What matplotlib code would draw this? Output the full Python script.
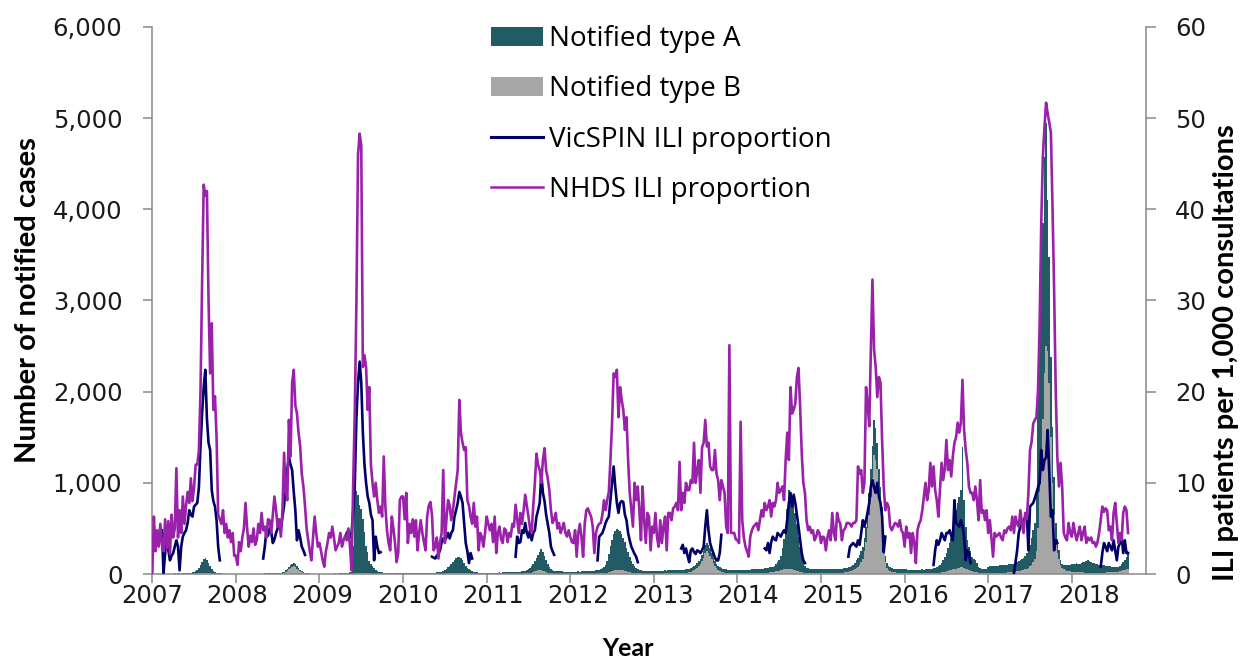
import numpy as np
import matplotlib
matplotlib.use("Agg")
import matplotlib.pyplot as plt
from matplotlib.patches import Patch
from matplotlib.lines import Line2D
from matplotlib.ticker import FuncFormatter

###################################################
# Data (weekly, one row per year, 2007 .. 2018)
###################################################

years = list(range(2007, 2019))

# NHDS ILI proportion (per 1,000 consultations)
nhds = [
    [0, 6.3, 2.5, 4.8, 3.0, 5.5, 3.2, 2.5, 6.0, 2.8, 5.8, 2.2, 6.5, 4.0, 5.0, 11.6, 4.0, 7.0, 4.5, 8.5, 5.5, 7.5, 9.0, 7.8, 10.5, 8.0, 9.5, 12.0, 12.0, 13.5, 20.0, 32.0, 42.7, 41.5, 42.0, 30.0, 22.0, 27.5, 18.0, 19.5, 15.0, 6.5, 6.0, 5.5, 7.0, 4.5, 5.5, 4.0, 4.8, 3.5, 4.5, 2.0],
    [2.0, 1.0, 3.5, 2.5, 4.0, 5.0, 7.8, 5.0, 3.0, 4.2, 3.5, 5.0, 3.2, 3.7, 5.5, 4.5, 6.7, 4.8, 5.2, 4.0, 6.0, 5.9, 4.5, 6.5, 8.5, 7.0, 5.2, 6.0, 4.1, 7.0, 13.3, 9.0, 8.1, 16.9, 12.9, 21.0, 22.4, 18.5, 17.6, 15.5, 14.0, 11.0, 9.6, 7.5, 5.0, 3.7, 2.5, 1.5, 4.0, 6.3, 4.5, 3.0],
    [3.4, 2.5, 1.5, 0.8, 2.5, 3.4, 4.5, 4.0, 5.2, 4.0, 2.6, 3.0, 3.4, 4.5, 3.0, 3.7, 4.2, 3.7, 5.0, 3.0, 0.4, 10.0, 18.0, 30.0, 46.0, 48.3, 47.0, 22.7, 24.0, 22.7, 18.0, 20.5, 12.0, 10.0, 8.5, 10.0, 8.1, 6.7, 7.4, 6.3, 12.9, 7.4, 4.8, 3.4, 2.6, 6.3, 5.0, 3.4, 1.3, 2.3, 8.1, 8.5],
    [8.5, 6.0, 8.9, 3.4, 5.5, 4.5, 6.0, 4.1, 5.9, 2.6, 4.5, 5.9, 4.5, 3.5, 2.6, 6.3, 7.5, 7.9, 6.5, 2.6, 3.0, 4.0, 1.7, 3.5, 4.5, 11.4, 3.4, 6.0, 8.1, 7.5, 5.9, 7.0, 8.5, 10.0, 11.4, 19.1, 15.5, 14.4, 13.6, 13.9, 8.1, 7.5, 6.3, 5.5, 7.8, 5.2, 6.3, 2.6, 4.5, 4.1, 3.0, 4.5],
    [6.3, 5.5, 4.8, 5.5, 3.5, 6.3, 2.3, 4.5, 5.2, 3.8, 3.4, 5.0, 4.8, 3.5, 4.5, 4.1, 5.5, 5.2, 7.6, 6.0, 4.5, 6.7, 5.5, 7.0, 8.7, 7.5, 6.3, 5.0, 4.5, 7.5, 10.0, 13.2, 12.0, 11.4, 10.0, 12.5, 13.8, 11.4, 10.5, 9.2, 7.0, 5.6, 6.0, 6.7, 5.0, 5.6, 4.5, 5.0, 5.6, 4.5, 4.1, 4.8],
    [4.1, 3.5, 3.4, 4.8, 1.9, 4.5, 5.5, 4.0, 1.9, 5.5, 7.0, 7.2, 6.7, 6.3, 5.2, 2.3, 4.5, 5.2, 5.5, 5.6, 6.5, 8.1, 7.0, 8.1, 9.0, 12.5, 16.5, 22.0, 21.6, 22.4, 17.2, 20.5, 19.1, 18.0, 15.8, 17.2, 12.5, 8.9, 7.0, 5.2, 10.0, 8.1, 9.6, 7.0, 3.7, 9.6, 5.9, 3.4, 6.7, 6.3, 2.6, 5.2],
    [4.5, 6.7, 4.0, 3.0, 5.9, 3.4, 5.2, 6.3, 2.6, 6.7, 6.7, 5.9, 7.2, 7.4, 7.8, 7.0, 12.3, 7.0, 8.9, 7.8, 10.0, 9.2, 9.2, 10.3, 10.0, 14.4, 10.0, 11.4, 12.5, 8.9, 13.9, 14.4, 16.9, 14.0, 14.4, 11.8, 11.4, 11.4, 13.6, 11.0, 10.3, 8.1, 10.3, 9.6, 8.9, 5.2, 4.5, 25.1, 4.5, 4.5, 4.5, 3.8],
    [3.7, 3.4, 16.7, 5.9, 4.0, 3.0, 2.5, 1.9, 4.1, 4.8, 5.2, 5.4, 5.6, 4.8, 5.9, 7.0, 6.3, 7.8, 7.0, 7.4, 8.1, 6.3, 7.8, 7.4, 8.1, 10.0, 8.9, 9.2, 9.6, 8.1, 12.5, 15.5, 12.5, 20.5, 17.6, 18.0, 18.7, 21.6, 22.6, 18.4, 13.3, 10.0, 8.9, 5.9, 4.8, 5.2, 4.5, 4.8, 3.7, 4.1, 4.8, 4.5],
    [3.4, 4.1, 4.0, 2.6, 4.0, 4.8, 3.7, 6.7, 4.5, 3.7, 6.7, 5.9, 5.5, 3.7, 4.8, 5.0, 5.6, 5.6, 5.5, 5.2, 5.6, 5.6, 5.9, 11.8, 11.0, 11.4, 8.9, 10.0, 20.5, 18.7, 16.2, 24.6, 32.3, 24.6, 22.7, 19.4, 21.6, 21.0, 14.7, 9.6, 7.0, 7.8, 7.4, 5.2, 4.8, 5.2, 5.6, 5.5, 5.2, 5.9, 4.8, 4.5],
    [3.0, 5.2, 4.0, 4.5, 2.3, 4.5, 3.5, 1.2, 4.8, 5.5, 5.9, 7.0, 8.5, 10.0, 8.1, 9.2, 12.2, 9.6, 11.8, 9.2, 8.1, 6.3, 9.2, 12.2, 10.3, 11.6, 14.7, 11.4, 12.5, 10.7, 12.9, 14.4, 15.0, 16.6, 15.5, 16.6, 21.3, 15.8, 13.6, 12.2, 9.6, 8.9, 8.9, 8.1, 9.6, 8.1, 5.9, 10.3, 6.7, 7.0, 5.9, 7.0],
    [4.5, 5.9, 4.0, 1.9, 4.5, 4.1, 4.3, 4.5, 4.0, 3.7, 4.8, 4.5, 5.0, 5.2, 4.8, 6.3, 4.5, 6.3, 5.5, 5.2, 7.0, 5.5, 4.5, 6.7, 6.0, 8.9, 13.6, 14.5, 16.5, 16.9, 17.2, 20.2, 27.5, 38.5, 45.8, 49.0, 51.7, 50.5, 49.5, 48.4, 40.3, 31.2, 20.2, 12.8, 9.6, 12.2, 9.6, 4.5, 4.0, 3.7, 5.6, 4.5],
    [4.1, 5.6, 4.5, 3.7, 4.5, 5.2, 3.7, 4.5, 5.2, 3.4, 4.0, 3.7, 4.0, 3.4, 3.5, 3.0, 3.5, 4.5, 6.0, 7.4, 6.8, 7.2, 7.0, 4.8, 5.2, 3.7, 6.7, 7.8, 5.6, 3.4, 4.5, 3.7, 6.7, 7.4, 7.0, 4.5],
]

# VicSPIN ILI proportion, reported in season only: first week and values
vic_start = [6, 17, 16, 18, 18, 17, 17, 17, 17, 18, 16, 18]
vicspin = [
    [4.8, 0.1, 2.3, 4.1, 2.6, 1.5, 2.0, 2.3, 3.0, 3.7, 3.0, 0.4, 3.0, 4.1, 4.5, 4.8, 5.6, 7.0, 6.5, 6.3, 7.4, 7.6, 7.8, 9.5, 14.0, 17.6, 20.5, 22.4, 17.0, 14.4, 13.6, 9.2, 8.0, 7.4, 5.9, 3.0, 1.5],
    [1.7, 3.0, 4.8, 4.2, 5.0, 4.6, 3.4, 3.8, 4.5, 5.0, 5.9, 5.0, 6.3, 7.5, 10.0, 11.5, 12.8, 12.0, 11.4, 9.0, 7.0, 3.7, 4.8, 4.0, 3.0, 2.6, 2.1],
    [4.0, 4.5, 4.8, 4.0, 4.5, 7.0, 10.0, 17.2, 21.0, 23.3, 21.0, 15.5, 12.0, 10.0, 8.5, 7.8, 6.5, 5.9, 1.5, 4.1, 3.0, 2.3, 2.4],
    [1.9, 1.8, 1.7, 2.0, 2.2, 2.6, 3.5, 3.9, 3.7, 4.0, 4.5, 3.9, 4.5, 4.8, 6.3, 7.0, 7.8, 9.0, 8.5, 7.8, 5.6, 3.4, 2.5, 1.2, 2.3, 1.7],
    [1.9, 4.1, 3.4, 3.5, 4.8, 4.5, 5.6, 4.5, 4.0, 4.8, 3.7, 4.5, 4.8, 6.3, 7.0, 7.8, 11.0, 8.9, 8.0, 6.5, 5.5, 4.5, 3.0, 2.5, 2.1],
    [1.5, 4.1, 4.3, 4.5, 5.0, 5.6, 6.0, 6.3, 8.1, 10.0, 11.8, 9.6, 7.8, 6.7, 7.8, 8.0, 7.9, 6.5, 5.9, 4.5, 3.7, 3.0, 2.6, 2.2, 1.9, 1.3],
    [2.8, 3.2, 2.3, 2.8, 2.0, 1.3, 2.6, 2.8, 2.4, 2.2, 2.6, 2.5, 2.3, 2.6, 3.0, 5.2, 7.0, 4.8, 3.4, 2.8, 2.3, 1.8, 1.5, 1.5, 2.3, 4.3],
    [2.8, 2.6, 3.4, 2.3, 3.5, 4.1, 3.8, 3.7, 4.5, 4.3, 4.1, 4.5, 4.8, 4.5, 6.0, 7.8, 8.9, 7.4, 8.7, 7.8, 6.5, 5.2, 3.7, 2.3, 1.5, 1.2],
    [1.9, 3.0, 3.2, 3.4, 3.2, 3.0, 3.7, 3.2, 4.5, 5.9, 5.2, 5.9, 6.8, 7.8, 9.6, 10.3, 9.5, 8.9, 10.0, 8.5, 7.8, 6.3, 2.4, 4.1],
    [1.0, 2.6, 3.7, 3.2, 3.7, 4.5, 4.1, 3.7, 4.5, 4.5, 4.8, 4.2, 3.7, 8.1, 5.6, 5.4, 5.2, 5.9, 5.3, 4.1, 1.5, 2.6, 2.3, 1.2],
    [0.1, 1.3, 2.6, 4.5, 5.2, 5.5, 5.9, 6.2, 6.7, 2.6, 7.4, 7.6, 7.8, 8.3, 8.9, 9.5, 10.0, 13.6, 11.4, 12.5, 12.8, 15.8, 11.1, 6.3, 7.0, 2.6, 3.7, 3.4],
    [0.8, 2.3, 3.4, 3.0, 2.5, 3.4, 3.0, 2.6, 3.7, 2.6, 1.5, 3.0, 3.4, 4.1, 2.3, 3.7, 2.3, 2.3],
]

# Notified cases, type A
type_a = [
    [2, 1, 2, 1, 2, 3, 2, 3, 2, 3, 3, 4, 3, 4, 5, 4, 5, 6, 5, 6, 8, 7, 9, 10, 12, 15, 20, 25, 40, 60, 90, 120, 150, 160, 140, 110, 80, 55, 35, 20, 12, 8, 6, 5, 5, 4, 4, 3, 3, 2, 2, 2],
    [2, 2, 1, 2, 2, 1, 2, 2, 3, 2, 2, 3, 2, 3, 3, 2, 3, 3, 4, 3, 4, 4, 5, 4, 5, 5, 6, 6, 5, 8, 10, 15, 20, 25, 30, 35, 35, 30, 25, 20, 15, 10, 8, 5, 4, 3, 3, 2, 2, 2, 1, 2],
    [2, 2, 3, 2, 3, 3, 4, 3, 4, 4, 5, 4, 5, 5, 6, 6, 8, 10, 12, 15, 20, 300, 1030, 900, 850, 740, 700, 590, 450, 300, 230, 135, 100, 80, 60, 44, 35, 25, 20, 15, 12, 10, 9, 8, 8, 7, 7, 6, 6, 5, 5, 5],
    [6, 5, 6, 7, 6, 7, 8, 7, 8, 9, 8, 9, 10, 9, 10, 10, 11, 12, 11, 12, 13, 14, 15, 17, 20, 30, 40, 50, 65, 80, 100, 120, 140, 160, 175, 180, 170, 140, 110, 85, 60, 45, 35, 25, 20, 15, 14, 13, 12, 12, 11, 12],
    [12, 12, 13, 12, 13, 14, 13, 14, 15, 14, 15, 16, 15, 16, 17, 16, 18, 17, 19, 18, 20, 22, 24, 26, 30, 35, 40, 55, 70, 90, 115, 140, 170, 200, 230, 210, 170, 130, 95, 70, 50, 40, 30, 28, 26, 25, 24, 24, 23, 22, 22, 21],
    [22, 23, 22, 24, 23, 25, 24, 26, 25, 27, 26, 28, 27, 29, 30, 32, 35, 38, 40, 45, 55, 70, 90, 130, 200, 280, 340, 400, 430, 450, 440, 430, 400, 360, 320, 260, 220, 170, 130, 100, 75, 55, 45, 38, 35, 33, 32, 30, 30, 29, 28, 28],
    [28, 30, 29, 31, 30, 32, 31, 33, 32, 34, 33, 35, 34, 36, 35, 37, 36, 38, 37, 39, 38, 40, 42, 45, 45, 45, 48, 50, 55, 60, 65, 75, 85, 95, 90, 80, 70, 60, 52, 48, 45, 42, 40, 40, 38, 38, 37, 37, 36, 36, 35, 36],
    [35, 36, 35, 38, 37, 40, 39, 42, 41, 44, 43, 46, 45, 48, 47, 50, 49, 52, 52, 55, 55, 58, 60, 65, 80, 100, 120, 160, 240, 330, 450, 650, 860, 820, 800, 730, 630, 510, 380, 270, 180, 120, 75, 60, 55, 52, 50, 50, 48, 48, 47, 47],
    [48, 47, 48, 46, 47, 45, 46, 45, 44, 45, 44, 45, 46, 45, 46, 46, 48, 48, 50, 55, 60, 70, 85, 100, 110, 120, 130, 150, 170, 200, 240, 300, 350, 390, 350, 290, 250, 230, 190, 120, 70, 50, 40, 40, 40, 40, 40, 40, 41, 40, 42, 41],
    [40, 40, 38, 39, 38, 37, 38, 37, 38, 39, 40, 42, 41, 43, 44, 45, 48, 50, 50, 55, 60, 70, 85, 100, 130, 160, 200, 250, 300, 350, 430, 535, 640, 715, 780, 850, 1310, 740, 460, 320, 260, 215, 160, 145, 130, 100, 65, 50, 45, 45, 46, 47],
    [70, 72, 75, 74, 76, 78, 77, 80, 82, 81, 84, 86, 85, 88, 90, 92, 88, 95, 102, 108, 114, 125, 135, 148, 170, 190, 235, 300, 350, 400, 670, 1500, 2400, 2500, 2150, 2375, 2450, 1650, 1380, 880, 610, 415, 210, 150, 95, 50, 40, 45, 50, 62, 63, 72],
    [90, 85, 95, 100, 90, 95, 100, 110, 120, 130, 140, 130, 120, 110, 105, 100, 95, 90, 85, 80, 80, 75, 70, 70, 65, 60, 55, 50, 50, 55, 60, 70, 90, 110, 140, 170],
]

# Notified cases, type B
type_b = [
    [0, 0, 0, 0, 0, 0, 0, 0, 0, 0, 0, 0, 0, 0, 1, 0, 1, 1, 0, 1, 1, 1, 1, 2, 2, 2, 3, 3, 4, 6, 8, 10, 12, 12, 10, 8, 6, 4, 3, 2, 1, 1, 1, 1, 0, 0, 1, 0, 0, 0, 0, 0],
    [0, 0, 0, 0, 0, 0, 0, 0, 1, 0, 0, 1, 0, 1, 1, 1, 1, 1, 2, 1, 2, 2, 2, 3, 3, 3, 4, 4, 5, 10, 15, 25, 35, 50, 65, 80, 85, 75, 60, 45, 30, 20, 12, 8, 5, 3, 2, 2, 1, 1, 1, 0],
    [1, 1, 1, 1, 1, 1, 1, 1, 1, 1, 1, 1, 1, 1, 1, 1, 2, 2, 2, 2, 3, 5, 8, 10, 12, 15, 15, 15, 12, 10, 8, 6, 5, 4, 3, 3, 2, 2, 2, 2, 2, 2, 2, 1, 1, 1, 1, 1, 1, 1, 1, 1],
    [1, 1, 1, 1, 1, 1, 1, 1, 1, 1, 2, 1, 2, 2, 2, 2, 2, 2, 2, 3, 3, 3, 3, 4, 4, 5, 5, 6, 7, 8, 9, 10, 10, 11, 12, 12, 11, 10, 9, 8, 7, 6, 5, 4, 4, 3, 3, 3, 2, 2, 2, 2],
    [2, 2, 2, 2, 2, 2, 2, 2, 2, 2, 3, 3, 3, 3, 3, 3, 3, 3, 4, 4, 4, 4, 5, 5, 6, 8, 10, 12, 15, 20, 28, 35, 40, 45, 42, 35, 28, 20, 15, 10, 8, 6, 5, 5, 4, 4, 4, 4, 4, 3, 3, 3],
    [3, 3, 3, 3, 3, 3, 3, 3, 3, 4, 4, 4, 4, 4, 5, 5, 5, 6, 6, 7, 8, 10, 12, 15, 20, 25, 30, 35, 40, 45, 45, 45, 42, 40, 35, 30, 25, 20, 15, 12, 10, 8, 7, 6, 6, 5, 5, 5, 5, 5, 5, 5],
    [5, 5, 5, 5, 5, 5, 6, 6, 6, 6, 6, 7, 7, 7, 7, 8, 8, 8, 9, 10, 12, 14, 17, 22, 30, 40, 55, 70, 90, 110, 140, 180, 230, 250, 230, 200, 160, 120, 90, 65, 45, 35, 25, 20, 15, 12, 10, 9, 8, 8, 7, 7],
    [7, 6, 6, 6, 6, 7, 7, 7, 7, 8, 8, 8, 9, 9, 10, 10, 11, 12, 13, 15, 18, 20, 22, 25, 28, 30, 35, 40, 45, 50, 55, 60, 60, 55, 50, 45, 40, 35, 30, 25, 20, 15, 12, 10, 9, 8, 8, 7, 7, 7, 6, 6],
    [6, 6, 6, 7, 7, 7, 8, 8, 9, 9, 10, 11, 12, 14, 16, 18, 22, 26, 30, 35, 40, 50, 65, 80, 100, 130, 170, 250, 350, 500, 650, 850, 1050, 1300, 1250, 1150, 900, 720, 550, 280, 130, 70, 45, 35, 25, 20, 18, 16, 15, 14, 13, 12],
    [11, 10, 10, 9, 9, 9, 9, 8, 8, 8, 8, 8, 8, 8, 9, 9, 10, 10, 11, 12, 13, 14, 16, 18, 20, 25, 30, 35, 40, 45, 50, 55, 60, 65, 70, 75, 80, 70, 60, 50, 40, 35, 30, 25, 20, 18, 16, 14, 13, 12, 12, 12],
    [12, 12, 12, 13, 13, 13, 14, 14, 15, 15, 16, 16, 17, 18, 19, 20, 22, 25, 28, 32, 36, 40, 45, 52, 60, 70, 85, 100, 130, 160, 250, 500, 900, 1300, 1700, 2200, 2500, 2450, 2100, 1500, 1000, 650, 350, 230, 170, 100, 70, 55, 45, 38, 32, 28],
    [25, 22, 20, 20, 18, 18, 17, 17, 16, 16, 16, 15, 15, 15, 15, 14, 14, 14, 15, 15, 16, 16, 17, 18, 18, 20, 20, 22, 24, 26, 30, 35, 40, 45, 50, 55],
]

for yr, n, a, b in zip(years, nhds, type_a, type_b):
    assert len(n) == len(a) == len(b), (yr, len(n), len(a), len(b))

###################################################
# Build weekly series
###################################################

nhds_all = np.concatenate([np.array(v, dtype=float) for v in nhds])
a_all = np.concatenate([np.array(v, dtype=float) for v in type_a])
b_all = np.concatenate([np.array(v, dtype=float) for v in type_b])
n_weeks = len(nhds_all)

vic_all = np.full(n_weeks, np.nan)
offset = 0
for yr_vals, start, season in zip(nhds, vic_start, vicspin):
    vic_all[offset + start:offset + start + len(season)] = season
    offset += len(yr_vals)

x = np.arange(n_weeks)

TEAL = "#235B65"
GREY = "#A6A6A6"
NAVY = "#000066"
PURPLE = "#9A22AA"
AXIS = "#898989"

###################################################
# Plot
###################################################

fig = plt.figure(figsize=(12.42, 6.61), dpi=100)
ax = fig.add_axes([0.1226, 0.1316, 0.7999, 0.8276])

ax.bar(x, b_all, width=1.0, color=GREY, linewidth=0)
ax.bar(x, a_all, bottom=b_all, width=1.0, color=TEAL, linewidth=0)

ax.set_xlim(0, 618)
ax.set_ylim(0, 6000)
ax.set_yticks(np.arange(0, 6001, 1000))
ax.yaxis.set_major_formatter(FuncFormatter(lambda v, p: f"{int(v):,}"))

# ticks every 52 weeks, year labels on a slightly wider spacing
ax.xaxis.remove_overlapping_locs = False
ax.set_xticks(np.arange(0, 619, 52))
ax.set_xticklabels([])
label_step = 52.95
ax.set_xticks([k * label_step for k in range(len(years))], minor=True)
ax.set_xticklabels([str(y) for y in years], minor=True)

ax.tick_params(axis="y", direction="out", length=6.5, width=1.1,
               color=AXIS, pad=15, labelsize=17.5, labelcolor="#1a1a1a")
ax.tick_params(axis="x", which="major", direction="out", length=6.5,
               width=1.1, color=AXIS)
ax.tick_params(axis="x", which="minor", length=0, pad=7,
               labelsize=17.5, labelcolor="#1a1a1a")

for side in ["top", "right"]:
    ax.spines[side].set_visible(False)
for side in ["left", "bottom"]:
    ax.spines[side].set_color(AXIS)
    ax.spines[side].set_linewidth(1.1)

ax2 = ax.twinx()
ax2.plot(x, vic_all, color=NAVY, lw=1.9)
ax2.plot(x, nhds_all, color=PURPLE, lw=1.9)
ax2.set_ylim(0, 60)
ax2.set_yticks(np.arange(0, 61, 10))
ax2.tick_params(axis="y", direction="out", length=7, width=1.1,
                color=AXIS, pad=14, labelsize=17.5, labelcolor="#1a1a1a")
for side in ["top", "left", "bottom"]:
    ax2.spines[side].set_visible(False)
ax2.spines["right"].set_color(AXIS)
ax2.spines["right"].set_linewidth(1.1)

ax.set_ylabel("Number of notified cases", fontsize=21,
              fontweight="bold", family="Lato")
ax.yaxis.set_label_coords(-0.112, 0.5)
ax2.set_ylabel("ILI patients per 1,000 consultations", fontsize=21,
               fontweight="bold", family="Lato", rotation=90)
ax2.yaxis.set_label_coords(1.068, 0.405)
ax.set_xlabel("Year", fontsize=18, fontweight="bold", family="Lato")
ax.xaxis.set_label_coords(0.479, -0.115)

handles = [
    Patch(facecolor=TEAL, edgecolor="none"),
    Patch(facecolor=GREY, edgecolor="none"),
    Line2D([0], [0], color=NAVY, lw=2.2),
    Line2D([0], [0], color=PURPLE, lw=1.8),
]
labels = ["Notified type A", "Notified type B",
          "VicSPIN ILI proportion", "NHDS ILI proportion"]
fig.legend(handles, labels, loc="upper left",
           bbox_to_anchor=(0.3953, 0.962), frameon=False,
           prop={"family": "Open Sans", "size": 20},
           handlelength=1.88, handleheight=0.66, handletextpad=0.22,
           labelspacing=0.8, borderpad=0, borderaxespad=0)

fig.savefig("out.png", dpi=100)
